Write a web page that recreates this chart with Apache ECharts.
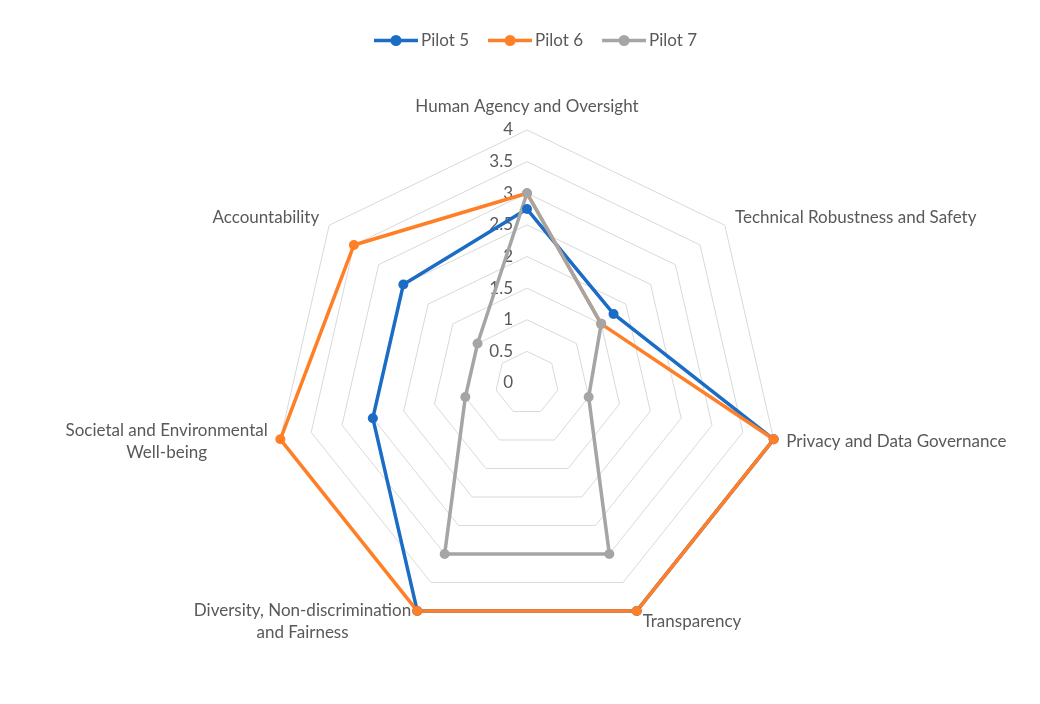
<!DOCTYPE html>
<html>
<head>
<meta charset="utf-8">
<script src="https://cdn.jsdelivr.net/npm/echarts@6/dist/echarts.min.js"></script>
<style>
html,body{margin:0;padding:0;background:#fff;}
#chart{width:1040px;height:704px;}
</style>
</head>
<body>
<div id="chart"></div>
<script>
// Axes listed clockwise starting from the top
const categories = [
  'Human Agency and Oversight',
  'Technical Robustness and Safety',
  'Privacy and Data Governance',
  'Transparency',
  'Diversity, Non-discrimination\nand Fairness',
  'Societal and Environmental\nWell-being',
  'Accountability'
];
const seriesNames = ['Pilot 5', 'Pilot 6', 'Pilot 7'];
const pilot5 = [2.75, 1.75, 4, 4, 4, 2.5, 2.5];
const pilot6 = [3, 1.5, 4, 4, 4, 4, 3.5];
const pilot7 = [3, 1.5, 1, 3, 3, 1, 1];
const axisMax = 4;
const axisSplits = 8;

const colors = ['#1B6CC4', '#FF7F27', '#A5A5A5'];
const FONT = 'Lato';
const FS = 17;

// ECharts places indicators counter-clockwise; reorder so they run clockwise
const order = [0].concat(categories.map((_, i) => i).slice(1).reverse());
const reorder = arr => order.map(i => arr[i]);

const indicators = reorder(categories).map((name, k) => {
  const ind = { name: name, max: axisMax, min: 0 };
  if (k === 0) ind.axisLabel = { show: true };
  return ind;
});

// rich styles so that multi-line names are centred line by line
const ctx = document.createElement('canvas').getContext('2d');
ctx.font = FS + 'px ' + FONT;
const rich = {};
categories.forEach((c, i) => {
  const w = Math.max.apply(null, c.split('\n').map(l => ctx.measureText(l).width));
  rich['n' + i] = { width: Math.ceil(w) + 1, align: 'center', fontFamily: FONT, fontSize: FS, color: '#595959', lineHeight: 22 };
});

const legendIcon = 'path://M0,4.2 L44,4.2 L44,7.8 L0,7.8 Z M22,0.5 A5.5,5.5 0 1 1 21.99,0.5 Z';

const allSeries = [pilot5, pilot6, pilot7];

const chart = echarts.init(document.getElementById('chart'), null, { renderer: 'canvas' });
chart.setOption({
  animation: false,
  textStyle: { fontFamily: FONT },
  color: colors,
  legend: {
    top: 32,
    left: 374,
    padding: 0,
    itemWidth: 44,
    itemHeight: 12,
    itemGap: 19,
    icon: legendIcon,
    textStyle: { fontFamily: FONT, fontSize: FS, color: '#595959', padding: [0, 0, 0, -2] },
    data: seriesNames
  },
  radar: {
    center: [527, 383],
    radius: 253,
    startAngle: 90,
    shape: 'polygon',
    splitNumber: axisSplits,
    indicator: indicators,
    axisName: {
      color: '#595959', fontFamily: FONT, fontSize: FS, lineHeight: 22,
      formatter: function (name) {
        const idx = categories.indexOf(name);
        return name.split('\n').map(l => '{n' + idx + '|' + l + '}').join('\n');
      },
      rich: rich
    },
    nameGap: 12,
    axisLine: { show: false },
    axisTick: { show: false },
    axisLabel: { show: false, color: '#595959', fontFamily: FONT, fontSize: FS, margin: 14 },
    splitLine: { lineStyle: { color: '#D9D9D9', width: 1 } },
    splitArea: { show: false }
  },
  series: [{
    type: 'radar',
    symbol: 'circle',
    symbolSize: 10,
    lineStyle: { width: 3.5 },
    data: allSeries.map((vals, i) => ({
      name: seriesNames[i],
      value: reorder(vals),
      itemStyle: { color: colors[i] },
      lineStyle: { color: colors[i], width: 3.5 }
    }))
  }]
});
</script>
</body>
</html>
